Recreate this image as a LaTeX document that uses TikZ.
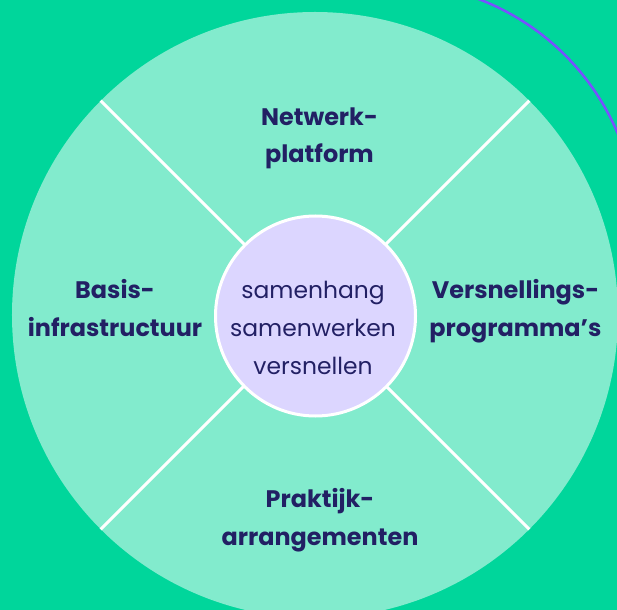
\documentclass[tikz,border=0pt]{standalone}
\usepackage{fontspec}
\setmainfont{Poppins}
\definecolor{bggreen}{RGB}{0,214,155}
\definecolor{lightgreen}{RGB}{130,235,205}
\definecolor{lavender}{RGB}{220,214,255}
\definecolor{navy}{RGB}{34,32,100}
\definecolor{arcpurple}{RGB}{120,80,255}
\tikzset{
  sector/.style={font=\bfseries\fontsize{24}{38}\selectfont, text=navy, align=center, anchor=base, inner sep=0pt},
  coretext/.style={font=\fontsize{23.5}{38}\selectfont, text=navy, align=center, anchor=base, inner sep=0pt},
  divider/.style={draw=white, line width=3bp},
}
\begin{document}
\begin{tikzpicture}[x=1bp,y=-1bp]
\fill[bggreen] (0,0) rectangle (617,610);
\useasboundingbox (0,0) rectangle (617,610);
\begin{scope}
\clip (420,0) rectangle (617,200);
\coordinate (arcc) at (391,229);
\draw[arcpurple, line width=2.5bp] (arcc) circle[radius=246bp];
\end{scope}
\node[circle, fill=lightgreen, minimum size=606bp, inner sep=0pt, outer sep=0pt] (outer) at (315,315) {};
\draw[divider] (outer.north west) -- (outer.south east);
\draw[divider] (outer.north east) -- (outer.south west);
\node[circle, fill=lavender, draw=white, line width=3bp, minimum size=200bp, inner sep=0pt, outer sep=0pt] (inner) at (315.5,316) {};
\node[coretext] (core) at (313,374) {samenhang\\samenwerken\\versnellen};
\node[sector] (net) at (319.5,163) {Netwerk-\\platform};
\node[sector] (basis) at (115,336.5) {Basis-\\infrastructuur};
\node[sector] (vers) at (515.5,336.5) {Versnellings-\\programma’s};
\node[sector] (prak) at (320,545) {Praktijk-\\arrangementen};
\end{tikzpicture}
\end{document}
